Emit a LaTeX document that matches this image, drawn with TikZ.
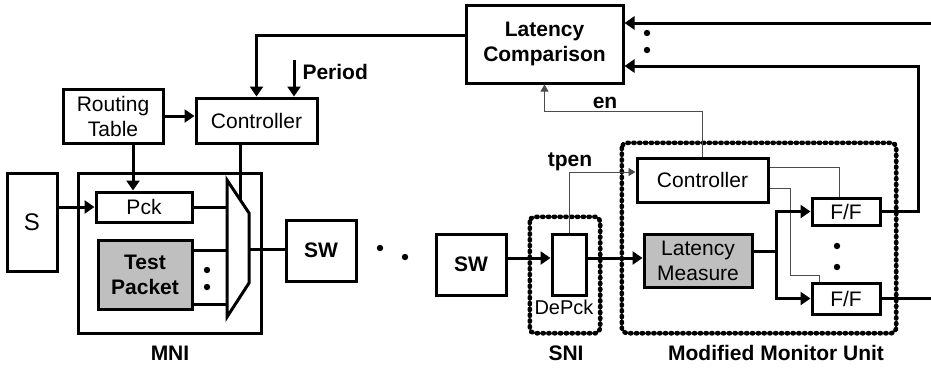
\documentclass[tikz,border=0pt]{standalone}
\usepackage{fontspec}
\setmainfont{Liberation Sans}
\usetikzlibrary{arrows.meta}

\tikzset
{%定义方框与连线样式
  txt/.style={font=\fontsize{21}{25}\selectfont},
  btxt/.style={font=\fontsize{21}{25}\selectfont\bfseries},
  blk/.style={draw,line width=3pt,inner sep=0pt,align=center},
  gblk/.style={blk,fill=black!25},
  dotbox/.style={line width=4.6pt,dash pattern=on 1.2pt off 4.6pt,line cap=round,rounded corners=5pt},
  wire/.style={line width=3pt},
  arr/.style={line width=3pt,-{Triangle[length=10pt,width=13pt]}},
  sigline/.style={draw=black!70,line width=0.9pt},
  sigarr/.style={sigline,-{Triangle[length=7pt,width=8pt]}},
}

\begin{document}
\begin{tikzpicture}[x=1pt,y=-1pt]
\useasboundingbox (0,0) rectangle (931,368);

% MNI
\node[blk,txt,minimum width=100pt,minimum height=54pt] (rt) at (113,116) {Routing\\Table};
\node[blk,txt,minimum width=121pt,minimum height=45pt] (ctl) at (256.5,120.5) {Controller};
\node[blk,minimum width=183pt,minimum height=160pt] (mni) at (169.5,253) {};
\node[blk,font=\fontsize{24}{28}\selectfont,minimum width=50pt,minimum height=98pt] (src) at (32,222) {S};
\node[blk,txt,minimum width=96pt,minimum height=30pt] (pck) at (144,207) {Pck};
\node[gblk,btxt,minimum width=94pt,minimum height=69pt] (tp) at (145,274.5) {Test\\Packet};
\node[blk,btxt,minimum width=70pt,minimum height=61pt] (swa) at (321,250.5) {SW};
\node[btxt] (mnilbl) at (170,353) {MNI};
\node[btxt,anchor=west] (per) at (299,72) {Period};

\coordinate (m1) at (227,180);
\coordinate (m2) at (249,213);
\coordinate (m3) at (249,283);
\coordinate (m4) at (227,317);
\coordinate (msel) at (240,199.5);
\coordinate (mout) at (249,249);
\coordinate (pertop) at (294,60);
\coordinate (tp1) at ([yshift=-12pt]tp.north east);
\coordinate (tp2) at ([yshift=6pt]tp.south east);
\draw[wire] (m1) -- (m2) -- (m3) -- (m4) -- cycle;

% SNI and monitor
\node[blk,btxt,minimum width=70pt,minimum height=61pt] (swb) at (471,264.5) {SW};
\node[minimum width=70pt,minimum height=116pt] (sni) at (565,275) {};
\node[blk,minimum width=34pt,minimum height=61pt] (dp) at (569,264.5) {};
\node[font=\fontsize{20}{24}\selectfont] (dplbl) at (564,307) {DePck};
\node[minimum width=274pt,minimum height=190pt] (mmu) at (759,238) {};
\draw[dotbox] (sni.north west) rectangle (sni.south east);
\draw[dotbox] (mmu.north west) rectangle (mmu.south east);
\node[blk,btxt,minimum width=157pt,minimum height=78pt] (lc) at (544.5,44) {Latency\\Comparison};
\node[blk,txt,minimum width=131pt,minimum height=44pt] (mctl) at (702.5,180) {Controller};
\node[gblk,txt,minimum width=108pt,minimum height=53pt] (lm) at (698,260.5) {Latency\\Measure};
\node[blk,txt,minimum width=68pt,minimum height=27pt] (ff1) at (846,211.5) {F/F};
\node[blk,txt,minimum width=68pt,minimum height=31pt] (ff2) at (846,298.5) {F/F};
\node[btxt] (snilbl) at (566,353) {SNI};
\node[btxt] (mmulbl) at (776,353) {Modified Monitor Unit};
\node[btxt] (enlbl) at (605,103) {en};
\node[btxt] (tpenlbl) at (570,162) {tpen};

\coordinate (in1) at (931,23);
\coordinate (out2) at (931,298.5);
\coordinate (sig) at (0,258);
\coordinate (br) at (776,251.5);

% connectors
\draw[arr] (rt.east) -- (rt.east -| ctl.west);
\draw[arr] ([xshift=20pt]rt.south) -- ([xshift=20pt]rt.south |- pck.north);
\draw[arr] ([yshift=9pt]lc.west) -| (ctl.north);
\draw[arr] (pertop) -- (pertop |- ctl.north);
\draw[wire] (msel |- ctl.south) -- (msel);
\draw[arr] (src.east |- pck.west) -- (pck.west);
\draw[wire] (pck.east) -- (pck.east -| m1);
\draw[wire] (tp1) -- (tp1 -| m1);
\draw[wire] (tp2) -- (tp2 -| m1);
\draw[wire] (mout) -- (mout -| swa.west);

\draw[arr] (sig -| swb.east) -- (sig -| dp.west);
\draw[arr] (sig -| dp.east) -- (sig -| lm.west);
\draw[sigarr] (dp.north) |- ([yshift=8pt]mctl.west);
\draw[sigarr] (mctl.north) -- ++(0,-45) -| (lc.south);
\draw[sigline] ([yshift=13pt]mctl.east) -| ([xshift=-7pt]ff1.north);
\draw[sigline] ([yshift=-8pt]mctl.east) -- ++(21,0) -- ++(0,87) -| ([xshift=-27pt]ff2.north);
\draw[wire] (br -| lm.east) -- ([xshift=1.5pt]br);
\draw[arr] (br) |- (ff1.west);
\draw[arr] (br) |- (ff2.west);
\draw[arr] (ff1.east) -- ++(37,0) |- ([yshift=-22pt]lc.east);
\draw[arr] (in1) -- (in1 -| lc.east);
\draw[wire] (ff2.east) -- (out2);

\foreach \p in {(207,270),(207,287),(380,248),(405,257),(647,33),(647,50),(837,246),(837,267)}
  \fill \p circle[radius=3.2pt];
\end{tikzpicture}
\end{document}
